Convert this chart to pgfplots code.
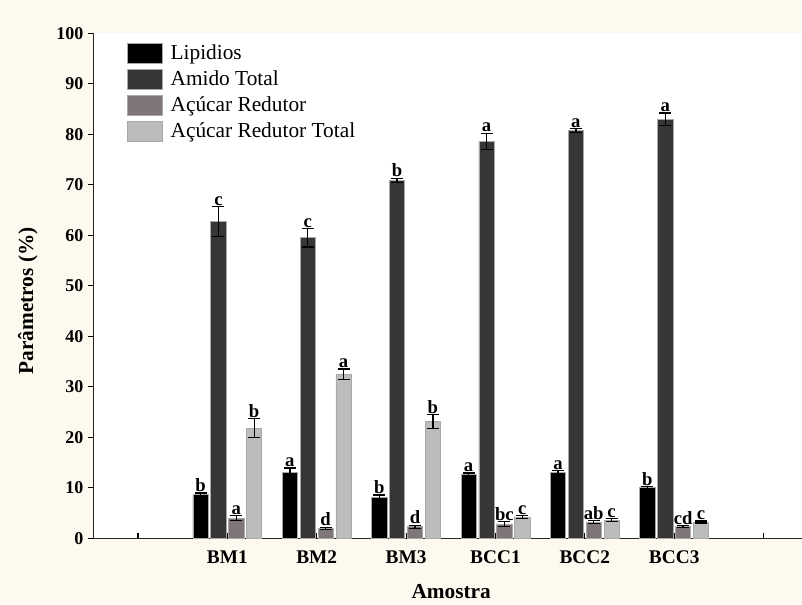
\documentclass[border=0pt]{standalone}
\usepackage{pgfplots}
\pgfplotsset{compat=1.18}
\usepackage{pgfplotstable}
\usepackage{fontspec}
\setmainfont{Liberation Serif}
\definecolor{bgcream}{HTML}{FEF9EE}
\definecolor{lipc}{HTML}{000000}
\definecolor{amic}{HTML}{383536}
\definecolor{arc}{HTML}{7F767B}
\definecolor{artc}{HTML}{BCBCBC}
\definecolor{edgec}{HTML}{A8A8A8}

\pgfplotstableread{
x y err lab
0 8.7 0.3 b
1 13.0 0.9 a
2 8.1 0.5 b
3 12.7 0.2 a
4 13.0 0.4 a
5 10.0 0.2 b
}\lip
\pgfplotstableread{
x y err lab
0 62.7 3.0 c
1 59.5 1.8 c
2 70.9 0.4 b
3 78.6 1.6 a
4 80.7 0.4 a
5 83.0 1.2 a
}\ami
\pgfplotstableread{
x y err lab
0 4.0 0.5 a
1 2.0 0.2 d
2 2.3 0.3 d
3 2.8 0.5 bc
4 3.2 0.3 ab
5 2.3 0.2 cd
}\ar
\pgfplotstableread{
x y err lab
0 21.8 1.9 b
1 32.5 1.0 a
2 23.1 1.4 b
3 4.2 0.3 c
4 3.6 0.3 c
5 3.2 0.2 c
}\art

\pgfplotsset{
  barst/.style={ybar, bar width=0.17, bar shift=0pt, draw=edgec, line width=0.5pt,
    error bars/y dir=both, error bars/y explicit,
    error bars/error bar style={black, line width=1pt},
    error bars/error mark options={rotate=90, black, mark size=4.5pt, line width=1pt}},
  labst/.style={forget plot, draw=none, mark=none, nodes near coords,
    point meta=explicit symbolic,
    nodes near coords style={anchor=south, inner sep=0.8pt, black,
      font=\fontsize{14}{14}\selectfont\bfseries}},
}

\begin{document}
\begin{tikzpicture}
\fill[bgcream] (0,0) rectangle (601.5pt,453pt);
\useasboundingbox (0,0) rectangle (601.5pt,453pt);
\begin{axis}[
  at={(69.98pt,49.28pt)}, anchor=south west,
  scale only axis, width=531.5pt, height=378.75pt,
  xmin=-1.5, xmax=6.43, ymin=0, ymax=100,
  axis lines*=left,
  axis line style={line width=1pt, black!85, -},
  axis background/.style={fill=white},
  xtick={-1,0,...,6},
  xticklabels={{},BM1,BM2,BM3,BCC1,BCC2,BCC3,{}},
  ytick={0,10,...,100},
  xtick align=inside, ytick align=outside,
  major tick length=4pt,
  tick style={line width=0.8pt, black},
  yticklabel style={font=\fontsize{13.5}{14}\selectfont\bfseries, /pgf/number format/assume math mode=true},
  xticklabel style={font=\fontsize{14.5}{15}\selectfont\bfseries, yshift=-5.5pt},
  ylabel={Parâmetros (\%)},
  ylabel style={font=\fontsize{16}{16}\selectfont\bfseries, at={(axis description cs:-0.0925,0.47)}, anchor=center},
  xlabel={Amostra},
  xlabel style={font=\fontsize{16}{16}\selectfont\bfseries, at={(axis description cs:0.505,-0.106)}, anchor=center},
  legend style={at={(axis description cs:0.0476,0.981)}, anchor=north west,
    draw=none, fill=none, inner sep=0pt, row sep=4pt, column sep=6pt,
    font=\fontsize{16}{19}\selectfont,
    nodes={inner sep=0pt}},
  legend cell align=left,
  legend image code/.code={\draw[#1, draw=edgec] (0pt,-7.5pt) rectangle (26pt,7.5pt);},
]
\addplot[barst, fill=lipc] table[x expr=\thisrow{x}-0.3, y=y, y error=err]{\lip};
\addlegendentry{Lipidios}
\addplot[barst, fill=amic] table[x expr=\thisrow{x}-0.1, y=y, y error=err]{\ami};
\addlegendentry{Amido Total}
\addplot[barst, fill=arc] table[x expr=\thisrow{x}+0.1, y=y, y error=err]{\ar};
\addlegendentry{Açúcar Redutor}
\addplot[barst, fill=artc] table[x expr=\thisrow{x}+0.3, y=y, y error=err]{\art};
\addlegendentry{Açúcar Redutor Total}

\addplot[labst] table[x expr=\thisrow{x}-0.3, y expr=\thisrow{y}+\thisrow{err}, meta=lab]{\lip};
\addplot[labst] table[x expr=\thisrow{x}-0.1, y expr=\thisrow{y}+\thisrow{err}, meta=lab]{\ami};
\addplot[labst] table[x expr=\thisrow{x}+0.1, y expr=\thisrow{y}+\thisrow{err}, meta=lab]{\ar};
\addplot[labst] table[x expr=\thisrow{x}+0.3, y expr=\thisrow{y}+\thisrow{err}, meta=lab]{\art};
\end{axis}
\end{tikzpicture}
\end{document}
